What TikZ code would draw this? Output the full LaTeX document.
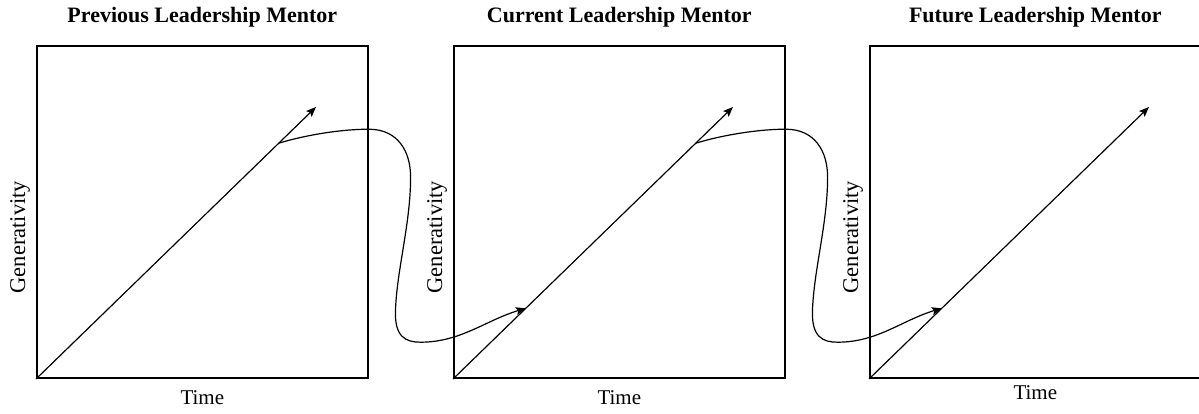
\documentclass[tikz,border=0pt]{standalone}
\usepackage{fontspec}
\setmainfont{Liberation Serif}
\usetikzlibrary{positioning}
\usetikzlibrary{calc,arrows.meta}

\tikzset{
    panel/.style={draw, line width=1.6pt, minimum width=331pt, minimum height=332pt, inner sep=0pt, anchor=south west},
    heading/.style={font=\fontsize{22}{26}\selectfont\bfseries},
    axislabel/.style={font=\fontsize{21}{25}\selectfont},
    growth/.style={line width=1.2pt, -{Stealth[length=10pt,width=8pt,inset=2pt]}},
    handover/.style={line width=1.2pt, -{Stealth[length=10pt,width=8pt,inset=2pt]}},
}

\begin{document}
\begin{tikzpicture}[x=1pt,y=-1pt]
    \useasboundingbox (0,0) rectangle (1199,414);

    % Draw the three mentor panels
    \foreach \i/\xo/\who/\dt in {1/36/Previous/19, 2/453/Current/19, 3/869/Future/14} {
        \node[panel] (box\i) at (\xo,379) {};
        \node[heading] (title\i) at ($(box\i.north)+(0,-28)$) {\who{} Leadership Mentor};
        \node[axislabel] (time\i) at ($(box\i.south)+(0,\dt)$) {Time};
        \node[axislabel, font=\fontsize{22.5}{26}\selectfont, rotate=90] (gen\i) at ($(box\i.west)+(-16,25)$) {Generativity};
        % Generativity rising over time
        \coordinate (tip\i) at ($(box\i.south west)+(280,-272)$);
        \draw[growth] (box\i.south west) -- (tip\i)
            coordinate[pos=0.867] (out\i)
            coordinate[pos=0.26] (in\i);
    }

    % Handing over to the next mentor
    \foreach \i/\j in {1/2, 2/3} {
        \draw[handover] (out\i)
            .. controls ++(30,-9) and ++(-25,0) .. ($(box\i.east)+(0,-83)$)
            .. controls ++(30,0) and ++(0,-25) .. ($(box\i.east)+(42,-35)$)
            .. controls ++(0,45) and ++(2,-40) .. ($(box\i.east)+(27,95)$)
            .. controls ++(-2,30) and ++(-15,0) .. ($(box\i.east)+(52,130)$)
            .. controls ++(40,0) and ++(-40,12) .. (in\j);
    }
\end{tikzpicture}
\end{document}
